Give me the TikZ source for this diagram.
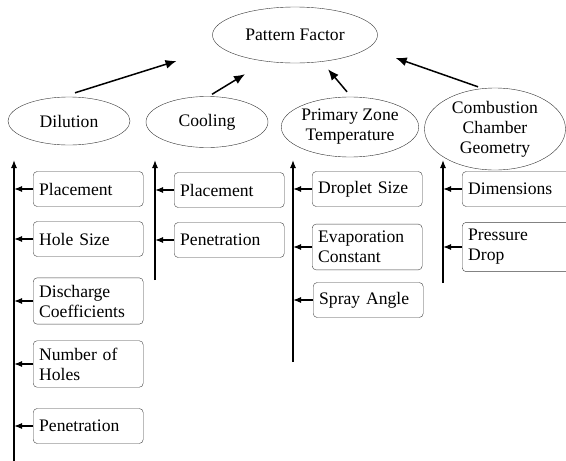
\documentclass[tikz,border=0pt]{standalone}
\usepackage{fontspec}
\setmainfont{Liberation Serif}
\usetikzlibrary{shapes.geometric,arrows.meta}

\begin{document}
\begin{tikzpicture}[x=1pt,y=-1pt,font=\fontsize{17.6}{20}\selectfont]

      \useasboundingbox (0,0) rectangle (566,461);

      \begin{scope}[every node/.style={ellipse,draw=black!80,inner sep=0pt,align=center}]
        \node[minimum width=165pt,minimum height=56pt] (pf)   at (295,35)  {Pattern Factor};
        \node[minimum width=122pt,minimum height=48pt] (dil)  at (69,121)  {Dilution};
        \node[minimum width=122pt,minimum height=51pt] (cool) at (207,122) {Cooling};
        \node[minimum width=123pt,minimum height=60pt] (pz)   at (350,127) {Primary Zone\\Temperature};
        \node[minimum width=141pt,minimum height=82pt] (ccg)  at (495,129) {Combustion\\Chamber\\Geometry};
      \end{scope}

      \begin{scope}[every node/.style={draw=black!75,rounded corners=4pt,anchor=west,
          text width=98pt,inner xsep=6pt,inner ysep=7pt,minimum height=35pt,align=left}]
        \node (d1) at (33,189)  {Placement};
        \node (d2) at (33,239)  {Hole Size};
        \node (d3) at (33,301)  {Discharge\\Coefficients};
        \node (d4) at (33,364)  {Number of\\Holes};
        \node (d5) at (33,426)  {Penetration};
        \node (c1) at (174,190) {Placement};
        \node (c2) at (174,240) {Penetration};
        \node (p1) at (312,189) {Droplet Size};
        \node (p2) at (312,247) {Evaporation\\Constant};
        \node (p3) at (313,300) {Spray Angle};
        \node (g1) at (462,189) {Dimensions};
        \node (g2) at (462,247) {Pressure\\Drop};
      \end{scope}

      % vertical lines
      \coordinate (dtop) at (14,160);  \coordinate (dbot) at (14,461);
      \coordinate (ctop) at (155,160); \coordinate (cbot) at (155,280);
      \coordinate (ptop) at (293,160); \coordinate (pbot) at (293,362);
      \coordinate (gtop) at (443,160); \coordinate (gbot) at (443,283);

      \begin{scope}[every path/.style={line width=1.2pt,-{Latex[length=8pt,width=6pt]}}]
        \draw (dbot) -- (dtop);
        \draw (cbot) -- (ctop);
        \draw (pbot) -- (ptop);
        \draw (gbot) -- (gtop);
        \foreach \b in {d1,d2,d3,d4,d5} \draw (\b.west) -- (\b.west -| dtop);
        \foreach \b in {c1,c2} \draw (\b.west) -- (\b.west -| ctop);
        \foreach \b in {p1,p2,p3} \draw (\b.west) -- (\b.west -| ptop);
        \foreach \b in {g1,g2} \draw (\b.west) -- (\b.west -| gtop);
      \end{scope}

      \begin{scope}[every path/.style={line width=1.5pt,-{Latex[length=11pt,width=9pt]}}]
        \draw ([shift={(6,-4)}]dil.north)  -- ([shift={(-60,6)}]pf.south west);
        \draw ([shift={(5,-2)}]cool.north) -- ([shift={(-50,11)}]pf.south);
        \draw ([shift={(-3,-5)}]pz.north)  -- ([shift={(33,6)}]pf.south);
        \draw ([shift={(-17,-1)}]ccg.north) -- ([shift={(18,23)}]pf.east);
      \end{scope}

    \end{tikzpicture}
\end{document}
